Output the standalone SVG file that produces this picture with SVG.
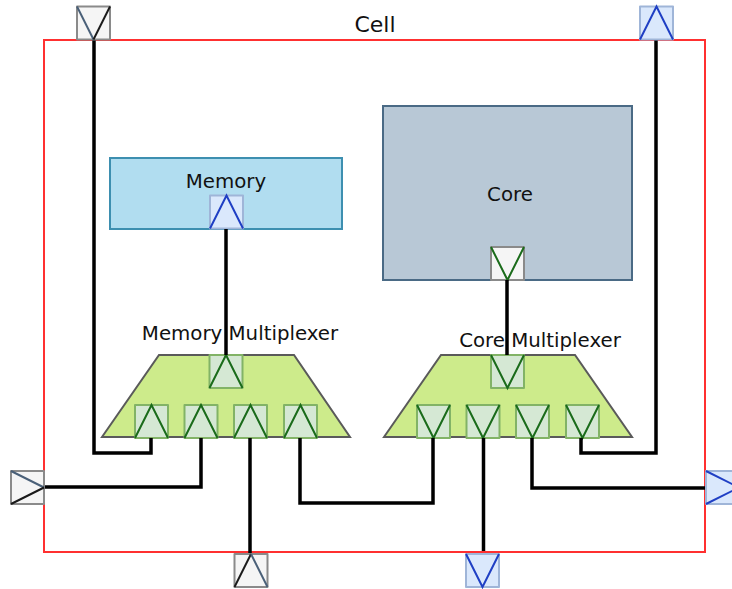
<svg xmlns="http://www.w3.org/2000/svg" width="732" height="589" viewBox="0 0 732 589">
<style>
text{font-family:"DejaVu Sans",Verdana,sans-serif;fill:#111;text-anchor:middle}
.t{font-size:19.800px}
.c{fill:none;stroke:#000;stroke-width:3.500;stroke-linejoin:miter}
.p{stroke-width:2;stroke-linejoin:round}
.g{fill:#f5f5f5;stroke:#8a8a8a}
.b{fill:#dae8fc;stroke:#9fb5d8}
.m{fill:#d5e8d4;stroke:#82b366}
.w{fill:#f5f5f5;stroke:#8a8a8a}
.a{fill:none;stroke-width:2;stroke-linejoin:miter}
</style>
<defs>
<g id="up"><path class="a" d="M0 33L16.500 0L33 33"/></g>
<g id="down"><path class="a" d="M0 0L16.500 33L33 0"/></g>
</defs>
<rect id="cell" x="44" y="40" width="661" height="512" fill="#fff" stroke="#ff3030" stroke-width="2"/>
<text class="t" x="375" y="32" style="font-size:22px">Cell</text>
<g id="memory">
<rect x="110" y="158" width="232" height="71" fill="#b1ddf0" stroke="#3d8fb0" stroke-width="2"/>
<text class="t" x="226" y="187.500">Memory</text>
<rect class="p b" x="210" y="195.500" width="33" height="33"/>
<use href="#up" x="210" y="195.500" stroke="#1f3fc4"/>
</g>
<g id="core">
<rect x="383" y="106" width="249" height="174" fill="#b8c8d6" stroke="#4a6a85" stroke-width="2"/>
<text class="t" x="510" y="201">Core</text>
<rect class="p w" x="491" y="247" width="33" height="33"/>
<use href="#down" x="491" y="247" stroke="#1a6b1a"/>
</g>
<g id="memory-mux">
<path d="M102 437L159 355H294L350 437Z" fill="#cdeb8b" stroke="#5a5a5a" stroke-width="2"/>
<text class="t" x="240" y="340">Memory Multiplexer</text>
<rect class="p m" x="209.500" y="355" width="33" height="33"/>
<use href="#up" x="209.500" y="355" stroke="#1a6b1a"/>
<rect class="p m" x="135" y="405" width="33" height="33"/>
<use href="#up" x="135" y="405" stroke="#1a6b1a"/>
<rect class="p m" x="184.500" y="405" width="33" height="33"/>
<use href="#up" x="184.500" y="405" stroke="#1a6b1a"/>
<rect class="p m" x="234" y="405" width="33" height="33"/>
<use href="#up" x="234" y="405" stroke="#1a6b1a"/>
<rect class="p m" x="284" y="405" width="33" height="33"/>
<use href="#up" x="284" y="405" stroke="#1a6b1a"/>
</g>
<g id="core-mux">
<path d="M384 437L441 355H575L632 437Z" fill="#cdeb8b" stroke="#5a5a5a" stroke-width="2"/>
<text class="t" x="540" y="347">Core Multiplexer</text>
<rect class="p m" x="491" y="355" width="33" height="33"/>
<use href="#down" x="491" y="355" stroke="#1a6b1a"/>
<rect class="p m" x="417" y="405" width="33" height="33"/>
<use href="#down" x="417" y="405" stroke="#1a6b1a"/>
<rect class="p m" x="466.500" y="405" width="33" height="33"/>
<use href="#down" x="466.500" y="405" stroke="#1a6b1a"/>
<rect class="p m" x="516" y="405" width="33" height="33"/>
<use href="#down" x="516" y="405" stroke="#1a6b1a"/>
<rect class="p m" x="566" y="405" width="33" height="33"/>
<use href="#down" x="566" y="405" stroke="#1a6b1a"/>
</g>
<g id="connectors">
<path class="c" d="M94 39V453H151V438"/>
<path class="c" d="M44 487H201V438"/>
<path class="c" d="M250 438V554"/>
<path class="c" d="M300 438V503H433V438"/>
<path class="c" d="M483.500 438V551"/>
<path class="c" d="M532 438V488H706"/>
<path class="c" d="M581 438V453H656V40"/>
<path class="c" d="M226 229V355"/>
<path class="c" d="M507 280V355"/>
</g>
<g id="port-top-left">
<rect class="p g" x="77" y="6.500" width="33" height="33"/>
<path class="a" stroke="#4a6078" d="M77 6.500L93.500 39.500"/><path class="a" stroke="#1a1a1a" d="M93.500 39.500L110 6.500"/>
</g>
<g id="port-top-right">
<rect class="p b" x="640" y="6.500" width="33" height="33"/>
<use href="#up" x="640" y="6.500" stroke="#1f3fc4"/>
</g>
<g id="port-left">
<rect class="p g" x="11" y="471" width="33" height="33"/>
<path class="a" stroke="#4a6078" d="M11 471L44 487.500"/><path class="a" stroke="#1a1a1a" d="M44 487.500L11 504"/>
</g>
<g id="port-bottom-left">
<rect class="p g" x="234.500" y="554" width="33" height="33"/>
<path class="a" stroke="#1a1a1a" d="M234.500 587L251 554"/><path class="a" stroke="#4a6078" d="M251 554L267.500 587"/>
</g>
<g id="port-bottom-mid">
<rect class="p b" x="466" y="554" width="33" height="33"/>
<use href="#down" x="466" y="554" stroke="#1f3fc4"/>
</g>
<g id="port-right">
<rect class="p b" x="706" y="471" width="33" height="33"/>
<path class="a" stroke="#1f3fc4" d="M706 471L739 487.500L706 504"/>
</g>
</svg>
